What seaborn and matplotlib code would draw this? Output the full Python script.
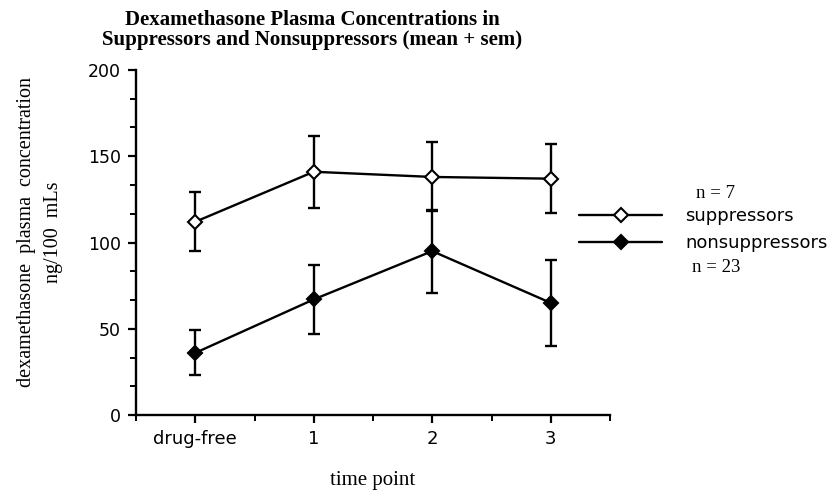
import numpy as np
import pandas as pd
import matplotlib
matplotlib.use('Agg')
import matplotlib.pyplot as plt
import seaborn as sns
from matplotlib.ticker import MultipleLocator, FixedLocator

# values
time_labels = ['drug-free', '1', '2', '3']
supp_mean = [112, 141, 138, 137]
supp_sem = [17, 21, 20, 20]
nons_mean = [36, 67, 95, 65]
nons_sem = [13, 20, 24, 25]

groups = ['suppressors', 'nonsuppressors']
group_n = {'suppressors': 7, 'nonsuppressors': 23}

df = pd.DataFrame({
    'time': list(range(len(time_labels))) * 2,
    'group': ['suppressors'] * len(supp_mean) + ['nonsuppressors'] * len(nons_mean),
    'conc': supp_mean + nons_mean,
    'sem': supp_sem + nons_sem,
})

sns.set_style('white')
plt.rcParams['font.family'] = ['DejaVu Sans']
plt.rcParams['text.color'] = 'black'
plt.rcParams['axes.labelcolor'] = 'black'
serif = ['Liberation Serif', 'DejaVu Serif']

fig = plt.figure(figsize=(8.34, 4.90), dpi=100)
ax = fig.add_axes([136 / 834, 1 - 415 / 490, 474 / 834, 345 / 490])

face = {'suppressors': 'white', 'nonsuppressors': 'black'}
for g in groups:
    sub = df[df.group == g]
    ax.errorbar(sub.time, sub.conc, yerr=sub['sem'], fmt='none', ecolor='black',
                elinewidth=1.7, capsize=4, capthick=1.7, zorder=2)
    sns.lineplot(data=sub, x='time', y='conc', ax=ax, color='black', lw=1.7,
                 marker='D', markersize=7, markerfacecolor=face[g],
                 markeredgecolor='black', markeredgewidth=1.5, label=g, zorder=3)

ax.set_xlim(-0.5, 3.5)
ax.set_ylim(0, 200)
ax.xaxis.set_major_locator(FixedLocator(range(len(time_labels))))
ax.xaxis.set_minor_locator(FixedLocator([-0.5, 0.5, 1.5, 2.5, 3.5]))
ax.set_xticklabels(time_labels)
ax.yaxis.set_major_locator(MultipleLocator(50))
ax.yaxis.set_minor_locator(FixedLocator([v for v in np.arange(0, 201, 50 / 3)]))

for s in ['top', 'right']:
    ax.spines[s].set_visible(False)
for s in ['left', 'bottom']:
    ax.spines[s].set_linewidth(1.7)
    ax.spines[s].set_color('black')

ax.tick_params(axis='both', which='both', bottom=True, left=True, direction='out', color='black')
ax.tick_params(axis='both', which='major', length=6, width=1.6, labelsize=13, labelcolor='black')
ax.tick_params(axis='both', which='minor', length=4.5, width=1.4)
ax.tick_params(axis='x', which='major', pad=5)
ax.tick_params(axis='y', which='major', pad=5)
ax.tick_params(axis='y', which='major', labelsize=12.5)

ax.set_xlabel('time point', family=serif, fontsize=15, labelpad=16)
ax.set_ylabel('dexamethasone  plasma  concentration\nng/100  mLs', family=serif,
              fontsize=14.5, linespacing=1.55)
ax.yaxis.set_label_coords(-0.155, 0.53)

fig.text(312 / 834, 1 - 10 / 490,
         'Dexamethasone Plasma Concentrations in\nSuppressors and Nonsuppressors (mean + sem)',
         ha='center', va='top', family=serif, fontweight='bold', fontsize=15, linespacing=1.0)

handles, labels = ax.get_legend_handles_labels()
if ax.legend_:
    ax.legend_.remove()
fig.legend(handles, labels, loc='upper left', bbox_to_anchor=(579 / 834, 1 - 207 / 490),
           frameon=False, fontsize=13, handlelength=4.6, handletextpad=1.3,
           labelspacing=0.5, borderpad=0, borderaxespad=0, numpoints=1)

fig.text(716 / 834, 1 - 193 / 490, 'n = %d' % group_n['suppressors'], ha='center', va='center',
         family=serif, fontsize=13.5)
fig.text(716 / 834, 1 - 268 / 490, 'n = %d' % group_n['nonsuppressors'], ha='center', va='center',
         family=serif, fontsize=13.5)

fig.savefig('out.png', dpi=100)
